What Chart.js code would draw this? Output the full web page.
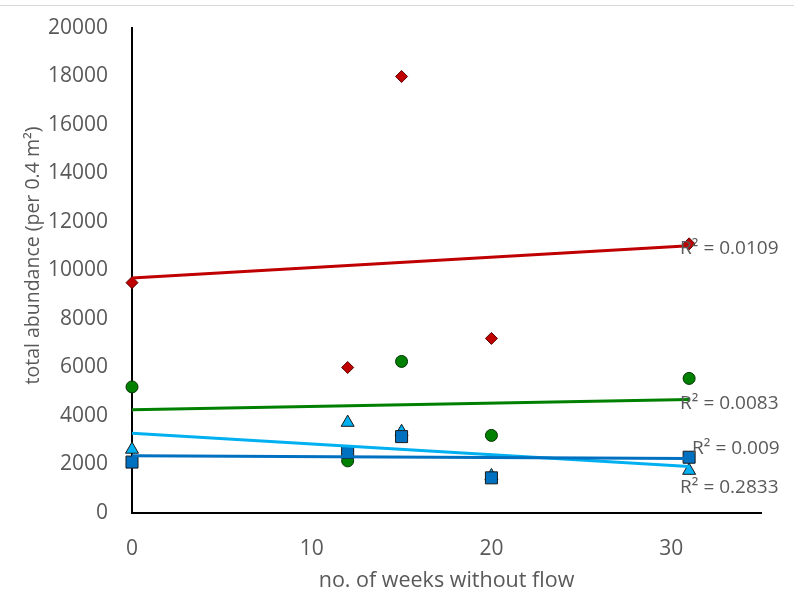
<!DOCTYPE html>
<html>
<head>
<meta charset="utf-8">
<script src="https://cdn.jsdelivr.net/npm/chart.js@4/dist/chart.umd.min.js"></script>
<style>
  html, body { margin: 0; padding: 0; background: #fff; }
  #wrap { width: 794px; height: 595px; position: relative; }
</style>
</head>
<body>
<div id="wrap"><canvas id="c" width="794" height="595"></canvas></div>
<script>
// ---- data ----
const weeks = [0, 12, 15, 20, 31];
const seriesRed = [9500, 6000, 18000, 7200, 11100];
const seriesGreen = [5200, 2150, 6250, 3200, 5550];
const seriesBlue = [2100, 2500, 3150, 1450, 2300];
const seriesLightBlue = [2620, 3730, 3350, 1530, 1750];
const r2Labels = ['R\u00B2 = 0.0109', 'R\u00B2 = 0.0083', 'R\u00B2 = 0.009', 'R\u00B2 = 0.2833'];
const xTickValues = [0, 10, 20, 30];
const xTitle = 'no. of weeks without flow';
const yTitle = 'total abundance (per 0.4 m\u00B2)';

// ---- helpers ----
function pts(xs, ys) { return xs.map((x, i) => ({ x: x, y: ys[i] })); }
function trend(xs, ys) {
  const n = xs.length;
  const mx = xs.reduce((a, b) => a + b, 0) / n;
  const my = ys.reduce((a, b) => a + b, 0) / n;
  let sxy = 0, sxx = 0;
  for (let i = 0; i < n; i++) { sxy += (xs[i] - mx) * (ys[i] - my); sxx += (xs[i] - mx) * (xs[i] - mx); }
  const b = sxy / sxx, a = my - b * mx;
  const x0 = Math.min(...xs), x1 = Math.max(...xs);
  return [{ x: x0, y: a + b * x0 }, { x: x1, y: a + b * x1 }];
}

const RED = '#C00000', GREEN = '#008000', BLUE = '#0070C0', LBLUE = '#00B0F0';

const seriesDefs = [
  { data: seriesRed, color: RED, style: 'rectRot', radius: 6, border: '#5a0000', order: 4 },
  { data: seriesGreen, color: GREEN, style: 'circle', radius: 6, border: '#003300', order: 3 },
  { data: seriesBlue, color: BLUE, style: 'rect', radius: 8.5, border: '#1a1a1a', order: 1 },
  { data: seriesLightBlue, color: LBLUE, style: 'triangle', radius: 7.5, border: '#1a1a1a', order: 2 }
];

const datasets = [];
seriesDefs.forEach((s, i) => {
  datasets.push({
    type: 'scatter',
    data: pts(weeks, s.data),
    backgroundColor: s.color,
    borderColor: s.border,
    borderWidth: 1,
    pointStyle: s.style,
    pointRadius: s.radius,
    pointHoverRadius: s.radius,
    clip: false,
    order: s.order
  });
});
// label offsets (pixels) relative to trendline end
const labelOffsets = [[-9, 3], [-9, 4], [3, -10], [-9, 21]];
seriesDefs.forEach((s, i) => {
  datasets.push({
    type: 'line',
    data: trend(weeks, s.data),
    borderColor: s.color,
    borderWidth: 3,
    pointRadius: 0,
    fill: false,
    tension: 0,
    clip: false,
    order: 0,
    r2: r2Labels[i],
    r2Offset: labelOffsets[i]
  });
});

const extras = {
  id: 'extras',
  beforeDraw(chart) {
    const ctx = chart.ctx;
    ctx.save();
    ctx.strokeStyle = '#d9d9d9';
    ctx.lineWidth = 1;
    ctx.beginPath();
    ctx.moveTo(0, 5.5); ctx.lineTo(794, 5.5);
    ctx.stroke();
    ctx.restore();
  },
  afterDraw(chart) {
    // y-axis title (Excel places it slightly above the plot-area middle)
    const ctx = chart.ctx;
    const area = chart.chartArea;
    ctx.save();
    ctx.translate(33, (area.top + area.bottom) / 2 - 15);
    ctx.rotate(-Math.PI / 2);
    ctx.font = '19.5px "Open Sans"';
    ctx.fillStyle = '#595959';
    ctx.textAlign = 'center';
    ctx.textBaseline = 'middle';
    ctx.fillText(yTitle, 0, 0);
    ctx.restore();
  },
  afterDatasetsDraw(chart) {
    const ctx = chart.ctx;
    ctx.save();
    ctx.font = '19px "Open Sans"';
    ctx.fillStyle = '#595959';
    ctx.textAlign = 'left';
    ctx.textBaseline = 'middle';
    chart.data.datasets.forEach((ds, i) => {
      if (!ds.r2) return;
      const meta = chart.getDatasetMeta(i);
      const end = meta.data[meta.data.length - 1];
      ctx.fillText(ds.r2, end.x + ds.r2Offset[0], end.y + ds.r2Offset[1]);
    });
    ctx.restore();
  }
};

new Chart(document.getElementById('c'), {
  type: 'scatter',
  data: { datasets: datasets },
  plugins: [extras],
  options: {
    responsive: false,
    animation: false,
    events: [],
    layout: { padding: { left: 0, right: 33, top: 28, bottom: 0 } },
    plugins: { legend: { display: false }, tooltip: { enabled: false } },
    scales: {
      x: {
        type: 'linear', min: 0, max: 35,
        afterFit(s) { s.height = 82; s.paddingLeft = 0; s.paddingRight = 0; },
        afterBuildTicks(s) { s.ticks = xTickValues.map(v => ({ value: v })); },
        ticks: { color: '#595959', font: { family: 'Open Sans', size: 21 }, padding: 23 },
        grid: { color: 'rgba(0,0,0,0)', drawTicks: false },
        border: { display: true, color: '#000', width: 2 },
        title: { display: true, text: xTitle, color: '#595959', font: { family: 'Open Sans', size: 21.5 }, padding: { top: 0, bottom: 1 } }
      },
      y: {
        type: 'linear', min: 0, max: 20000,
        afterFit(s) { s.width = 132; s.paddingTop = 0; s.paddingBottom = 0; },
        ticks: { stepSize: 2000, color: '#595959', font: { family: 'Open Sans', size: 21 }, padding: 24,
                 callback: v => String(v) },
        grid: { color: 'rgba(0,0,0,0)', drawTicks: false },
        border: { display: true, color: '#000', width: 2 },
        title: { display: false }
      }
    }
  }
});
</script>
</body>
</html>
